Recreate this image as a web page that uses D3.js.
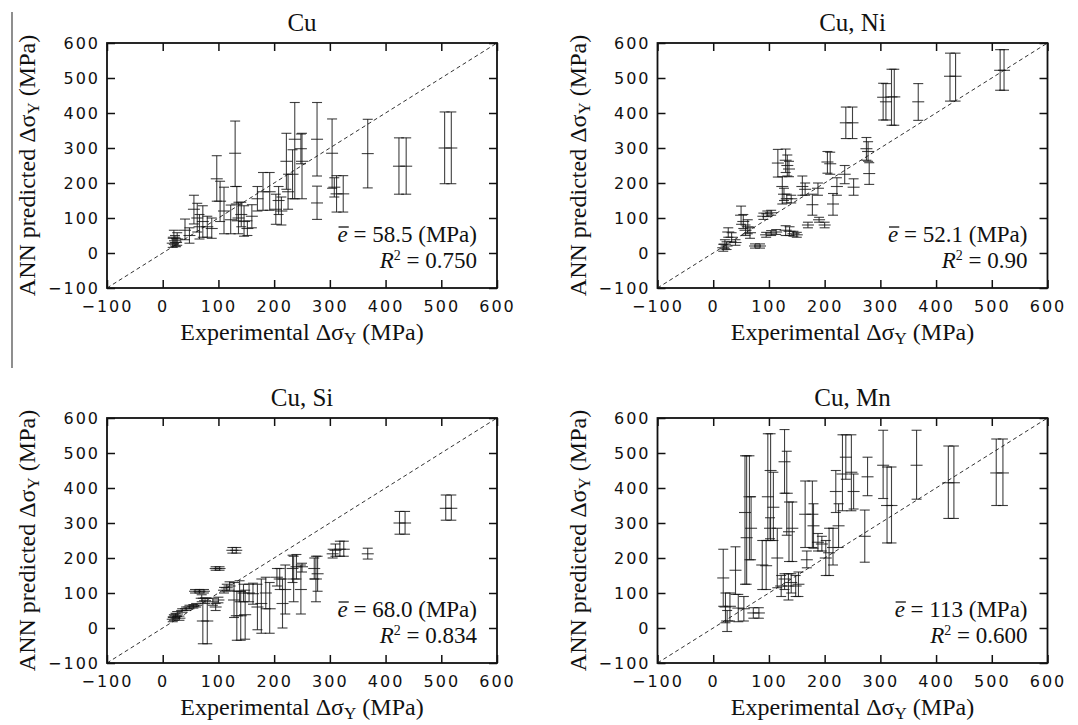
<!DOCTYPE html>
<html>
<head>
<meta charset="utf-8">
<script src="https://cdnjs.cloudflare.com/ajax/libs/d3/7.8.5/d3.min.js"></script>
<style>
  body { margin: 0; background: #fff; }
  svg { display: block; }
</style>
</head>
<body>
<svg id="chart"></svg>
<script>
// each row: [experimental, predicted, lower end of bar, upper end of bar] in MPa
const cuData = [
  [18, 28, 16, 42], [20, 45, 25, 65], [22, 35, 20, 50], [24, 30, 18, 42], [26, 40, 22, 58],
  [40, 65, 38, 97], [48, 50, 28, 72], [56, 125, 83, 165], [62, 100, 60, 142], [66, 75, 40, 110],
  [72, 90, 45, 135], [80, 75, 45, 105], [88, 70, 42, 100], [97, 212, 148, 278], [103, 148, 90, 205],
  [110, 120, 55, 188], [122, 95, 55, 137], [130, 285, 190, 377], [133, 140, 92, 190], [136, 100, 55, 145],
  [141, 110, 75, 145], [146, 90, 48, 135], [152, 70, 50, 92], [160, 105, 72, 138], [170, 155, 120, 190],
  [180, 175, 122, 230], [192, 175, 122, 230], [203, 125, 82, 168], [208, 150, 110, 190], [213, 120, 80, 160],
  [222, 262, 182, 342], [225, 175, 125, 225], [233, 225, 155, 295], [237, 325, 155, 430], [250, 262, 155, 342],
  [248, 298, 255, 340], [277, 325, 220, 430], [277, 143, 96, 191], [304, 285, 185, 383], [308, 188, 160, 215],
  [312, 169, 117, 221], [324, 169, 117, 221], [368, 284, 186, 382], [424, 248, 168, 329], [437, 248, 168, 329],
  [506, 300, 198, 403], [518, 300, 198, 403],
];

const cuNiData = [
  [18, 15, 5, 25], [21, 25, 12, 38], [24, 20, 10, 32], [27, 60, 45, 72], [33, 45, 32, 58],
  [40, 30, 22, 38], [50, 108, 82, 134], [54, 90, 70, 110], [58, 65, 50, 80], [62, 75, 55, 95],
  [66, 58, 42, 72], [75, 20, 14, 26], [84, 20, 14, 26], [90, 105, 96, 114], [97, 112, 104, 120],
  [104, 115, 108, 122], [95, 52, 45, 59], [104, 57, 50, 64], [113, 60, 53, 67], [116, 257, 217, 296],
  [124, 190, 140, 218], [127, 168, 150, 185], [132, 155, 143, 168], [140, 155, 143, 165], [130, 265, 230, 297],
  [133, 250, 220, 280], [136, 240, 218, 262], [130, 65, 50, 78], [137, 62, 50, 75], [144, 55, 48, 62],
  [150, 52, 45, 59], [160, 190, 165, 220], [165, 182, 165, 200], [170, 80, 72, 88], [178, 138, 108, 168],
  [188, 185, 165, 200], [190, 95, 88, 102], [200, 80, 72, 88], [205, 260, 228, 290], [210, 255, 225, 288],
  [215, 140, 108, 170], [222, 190, 165, 215], [236, 225, 198, 250], [238, 372, 327, 417], [250, 372, 327, 417],
  [252, 188, 165, 212], [275, 298, 265, 330], [278, 290, 262, 318], [280, 227, 196, 258], [305, 445, 380, 485],
  [310, 432, 380, 484], [320, 446, 365, 525], [325, 446, 365, 525], [368, 432, 379, 484], [425, 505, 434, 571],
  [435, 505, 434, 571], [515, 522, 465, 581], [522, 522, 465, 581],
];

const cuSiData = [
  [18, 25, 18, 32], [20, 30, 22, 38], [23, 35, 28, 42], [26, 40, 33, 47], [30, 28, 22, 34],
  [35, 50, 45, 55], [42, 55, 50, 60], [48, 60, 55, 65], [55, 62, 57, 67], [60, 65, 60, 70],
  [58, 105, 100, 110], [66, 105, 100, 110], [74, 105, 100, 110], [70, 85, 75, 95], [76, 78, 70, 86],
  [72, 20, -45, 85], [80, 20, -45, 85], [90, 75, 65, 85], [95, 60, 50, 70], [100, 80, 72, 88],
  [95, 170, 165, 175], [102, 170, 165, 175], [110, 108, 100, 116], [115, 115, 105, 125], [120, 120, 108, 132],
  [125, 222, 214, 230], [132, 222, 214, 230], [128, 80, 30, 130], [133, 35, -35, 105], [140, 35, -35, 105],
  [148, 38, -32, 108], [138, 105, 75, 135], [145, 100, 75, 125], [155, 100, 75, 125], [162, 98, 68, 128],
  [170, 60, -5, 125], [177, 70, -15, 140], [185, 100, 55, 145], [192, 55, -15, 130], [205, 145, 120, 170],
  [210, 140, 110, 170], [215, 70, 0, 140], [220, 110, 40, 180], [233, 170, 130, 208], [240, 175, 140, 210],
  [235, 140, 75, 205], [250, 175, 160, 185], [248, 110, 40, 180], [272, 170, 140, 200], [278, 155, 105, 205],
  [275, 140, 75, 205], [305, 212, 200, 225], [310, 222, 205, 240], [318, 225, 205, 248], [325, 225, 205, 248],
  [368, 212, 197, 228], [425, 300, 268, 333], [435, 300, 268, 333], [508, 342, 308, 380], [518, 342, 308, 380],
];

const cuMnData = [
  [18, 143, 62, 225], [22, 60, 15, 100], [25, 20, -10, 50], [30, 62, 20, 100], [40, 165, 96, 232],
  [45, 57, 18, 96], [55, 55, 20, 90], [72, 43, 28, 58], [82, 43, 28, 58], [57, 330, 125, 492],
  [60, 258, 125, 492], [65, 375, 195, 492], [68, 285, 195, 375], [88, 180, 110, 250], [95, 178, 110, 250],
  [98, 375, 250, 555], [103, 450, 250, 555], [108, 345, 250, 445], [102, 285, 255, 315], [115, 200, 115, 285],
  [128, 475, 385, 567], [132, 385, 265, 505], [136, 275, 190, 360], [142, 285, 190, 360], [122, 120, 90, 150],
  [128, 140, 110, 155], [135, 120, 80, 155], [140, 130, 100, 155], [148, 120, 90, 150], [153, 125, 90, 160],
  [165, 325, 230, 420], [178, 325, 230, 420], [180, 292, 228, 355], [168, 195, 172, 220], [188, 245, 220, 270],
  [195, 240, 220, 262], [202, 200, 150, 250], [208, 215, 150, 285], [215, 230, 180, 285], [220, 390, 330, 450],
  [225, 292, 230, 355], [232, 440, 335, 552], [238, 488, 425, 552], [248, 445, 335, 552], [252, 390, 340, 440],
  [272, 262, 188, 337], [277, 432, 378, 488], [305, 465, 370, 565], [312, 350, 243, 460], [320, 350, 243, 460],
  [365, 465, 368, 565], [422, 415, 313, 520], [432, 415, 313, 520], [508, 443, 350, 540], [520, 443, 350, 540],
];

const panelTitles = ['Cu', 'Cu, Ni', 'Cu, Si', 'Cu, Mn'];
const meanErrors = ['58.5', '52.1', '68.0', '113'];
const rSquared = ['0.750', '0.90', '0.834', '0.600'];
const tickValues = [-100, 0, 100, 200, 300, 400, 500, 600];

const datasets = [cuData, cuNiData, cuSiData, cuMnData];

const width = 1078;
const height = 725;
const serif = '"Liberation Serif", "Times New Roman", Times, serif';

const svg = d3.select('#chart')
  .attr('width', width)
  .attr('height', height);

// plot frame placement
const plotW = 390;
const plotH = 245;
const origins = [[107, 43], [657.5, 43], [107, 418], [657.5, 418]];

const x = d3.scaleLinear().domain([-100, 600]).range([0, plotW]);
const y = d3.scaleLinear().domain([-100, 600]).range([plotH, 0]);

// stray scan line on the left edge
svg.append('line')
  .attr('x1', 12).attr('x2', 12)
  .attr('y1', 12).attr('y2', 368)
  .attr('stroke', '#444')
  .attr('stroke-width', 1.2);

const styleTicks = (g) => {
  g.select('.domain').remove();
  g.selectAll('.tick line')
    .attr('stroke', '#111')
    .attr('stroke-width', 1.5);
  g.selectAll('.tick text')
    .attr('fill', '#111')
    .attr('font-family', '"DejaVu Sans", sans-serif')
    .attr('font-size', 16)
    .attr('letter-spacing', 2);
};

datasets.forEach((data, i) => {
  const [ox, oy] = origins[i];
  const g = svg.append('g')
    .attr('transform', `translate(${ox},${oy})`);

  // axes with inward ticks
  g.append('g')
    .attr('transform', `translate(0,${plotH})`)
    .call(d3.axisBottom(x).tickValues(tickValues).tickSize(-8).tickPadding(13))
    .call(styleTicks);
  g.append('g')
    .call(d3.axisTop(x).tickValues(tickValues).tickSize(-8).tickFormat(''))
    .call(styleTicks);
  g.append('g')
    .call(d3.axisLeft(y).tickValues(tickValues).tickSize(-8).tickPadding(7))
    .call(styleTicks);
  g.append('g')
    .attr('transform', `translate(${plotW},0)`)
    .call(d3.axisRight(y).tickValues(tickValues).tickSize(-8).tickFormat(''))
    .call(styleTicks);

  // y = x reference
  g.append('line')
    .attr('x1', x(-100)).attr('y1', y(-100))
    .attr('x2', x(600)).attr('y2', y(600))
    .attr('stroke', '#333')
    .attr('stroke-width', 1)
    .attr('stroke-dasharray', '4,3');

  // error bars
  const bars = g.append('g')
    .attr('stroke', '#111')
    .attr('stroke-opacity', 0.8)
    .attr('stroke-width', 1.1)
    .selectAll('g')
    .data(data)
    .enter().append('g');

  bars.append('line')
    .attr('x1', d => x(d[0])).attr('x2', d => x(d[0]))
    .attr('y1', d => y(d[2])).attr('y2', d => y(d[3]));
  bars.append('line')
    .attr('x1', d => x(d[0]) - 5).attr('x2', d => x(d[0]) + 5)
    .attr('y1', d => y(d[2])).attr('y2', d => y(d[2]));
  bars.append('line')
    .attr('x1', d => x(d[0]) - 5).attr('x2', d => x(d[0]) + 5)
    .attr('y1', d => y(d[3])).attr('y2', d => y(d[3]));
  bars.append('line')
    .attr('x1', d => x(d[0]) - 6).attr('x2', d => x(d[0]) + 6)
    .attr('y1', d => y(d[1])).attr('y2', d => y(d[1]));

  // frame
  g.append('rect')
    .attr('width', plotW)
    .attr('height', plotH)
    .attr('fill', 'none')
    .attr('stroke', '#111')
    .attr('stroke-width', 1.8);

  // title
  g.append('text')
    .attr('x', plotW / 2)
    .attr('y', -12)
    .attr('text-anchor', 'middle')
    .attr('font-family', serif)
    .attr('font-size', 25)
    .attr('fill', '#111')
    .text(panelTitles[i]);

  // stats: mean error with an overbar on e, and R squared
  const stat1 = g.append('text')
    .attr('x', plotW - 20)
    .attr('y', plotH - 46)
    .attr('text-anchor', 'end')
    .attr('font-family', serif)
    .attr('font-size', 23)
    .attr('fill', '#111');
  stat1.append('tspan')
    .attr('font-style', 'italic')
    .text('e');
  stat1.append('tspan').text(` = ${meanErrors[i]} (MPa)`);

  const eStart = stat1.node().getStartPositionOfChar(0);
  const eEnd = stat1.node().getEndPositionOfChar(0);
  g.append('line')
    .attr('x1', eStart.x + 1).attr('x2', eEnd.x + 1)
    .attr('y1', plotH - 46 - 15).attr('y2', plotH - 46 - 15)
    .attr('stroke', '#111')
    .attr('stroke-width', 1.3);

  const stat2 = g.append('text')
    .attr('x', plotW - 20)
    .attr('y', plotH - 20)
    .attr('text-anchor', 'end')
    .attr('font-family', serif)
    .attr('font-size', 23)
    .attr('fill', '#111');
  stat2.append('tspan').attr('font-style', 'italic').text('R');
  stat2.append('tspan').attr('font-size', 14).attr('dy', -8).text('2');
  stat2.append('tspan').attr('dy', 8).text(` = ${rSquared[i]}`);

  // x label
  const xl = g.append('text')
    .attr('x', plotW / 2)
    .attr('y', plotH + 52)
    .attr('text-anchor', 'middle')
    .attr('font-family', serif)
    .attr('font-size', 24)
    .attr('fill', '#111');
  xl.append('tspan').text('Experimental Δσ');
  xl.append('tspan').attr('font-size', 17).attr('dy', 4).text('Y');
  xl.append('tspan').attr('dy', -4).text(' (MPa)');

  // y label
  const yl = g.append('text')
    .attr('transform', `translate(-72,${plotH / 2}) rotate(-90)`)
    .attr('text-anchor', 'middle')
    .attr('font-family', serif)
    .attr('font-size', 24)
    .attr('fill', '#111');
  yl.append('tspan').text('ANN predicted Δσ');
  yl.append('tspan').attr('font-size', 17).attr('dy', 4).text('Y');
  yl.append('tspan').attr('dy', -4).text(' (MPa)');
});
</script>
</body>
</html>
